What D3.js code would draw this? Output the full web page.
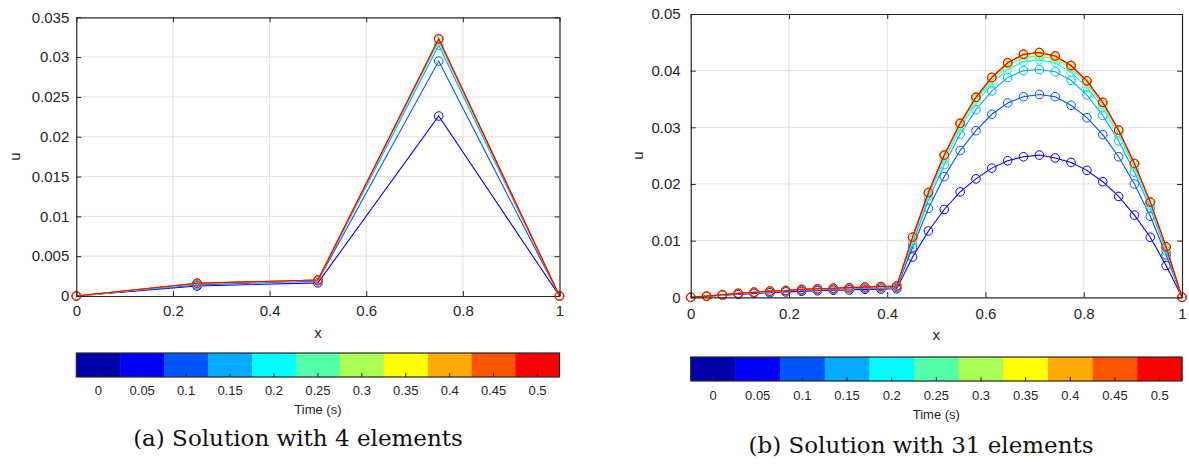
<!DOCTYPE html>
<html>
<head>
<meta charset="utf-8">
<script src="https://cdn.jsdelivr.net/npm/d3@7"></script>
<style>
  body { margin: 0; background: #fff; }
  svg { display: block; }
  text { font-family: "Liberation Sans", Arial, sans-serif; fill: #262626; }
</style>
</head>
<body>
<script>
// time steps shown in the colorbar, one colour each
const times = ["0", "0.05", "0.1", "0.15", "0.2", "0.25", "0.3", "0.35", "0.4", "0.45", "0.5"];
const timeColors = ["#0000aa", "#0000ff", "#0055ff", "#00aaff", "#00ffff", "#55ffaa",
                    "#aaff55", "#ffff00", "#ffaa00", "#ff5500", "#ff0000"];

const xTicks = [0, 0.2, 0.4, 0.6, 0.8, 1];
const yTicks4 = [0, 0.005, 0.01, 0.015, 0.02, 0.025, 0.03, 0.035];
const yTicks31 = [0, 0.01, 0.02, 0.03, 0.04, 0.05];

// mesh with 4 elements
const x4 = [0, 0.25, 0.5, 0.75, 1];
// one row per time step 0.05 ... 0.5
const u4 = [
  [0, 0.00125, 0.00165, 0.0226, 0],
  [0, 0.0014, 0.0019, 0.0295, 0],
  [0, 0.0015, 0.00195, 0.0315, 0],
  [0, 0.0015, 0.002, 0.032, 0],
  [0, 0.0016, 0.002, 0.0322, 0],
  [0, 0.0016, 0.00201, 0.0323, 0],
  [0, 0.0016, 0.00201, 0.0323, 0],
  [0, 0.0016, 0.00201, 0.0323, 0],
  [0, 0.0016, 0.00201, 0.0323, 0],
  [0, 0.0016, 0.00201, 0.0323, 0]
];

// mesh with 31 elements
const x31 = [0, 0.0323, 0.0645, 0.0968, 0.1290, 0.1613, 0.1935, 0.2258, 0.2581, 0.2903,
             0.3226, 0.3548, 0.3871, 0.4194, 0.4516, 0.4839, 0.5161, 0.5484, 0.5806, 0.6129,
             0.6452, 0.6774, 0.7097, 0.7419, 0.7742, 0.8065, 0.8387, 0.8710, 0.9032, 0.9355,
             0.9677, 1];
const u31 = [
  [0, 0.00015, 0.00035, 0.0005, 0.0007, 0.0008, 0.00095, 0.00105, 0.00115, 0.00125, 0.0013, 0.0014, 0.00145, 0.0015,
   0.0071, 0.0117, 0.0155, 0.0186, 0.0209, 0.0228, 0.0241, 0.0248, 0.0251, 0.0246, 0.0238, 0.0224, 0.0204, 0.0178, 0.0145, 0.0106, 0.0056, 0],
  [0, 0.00018, 0.0004, 0.0006, 0.0008, 0.00095, 0.0011, 0.00125, 0.00135, 0.00145, 0.00155, 0.00165, 0.0017, 0.00175,
   0.0088, 0.0157, 0.0213, 0.0259, 0.0294, 0.0323, 0.0343, 0.0354, 0.0358, 0.0354, 0.0339, 0.0317, 0.0287, 0.0248, 0.0200, 0.0143, 0.0075, 0],
  [0, 0.00019, 0.00042, 0.00065, 0.00085, 0.001, 0.00115, 0.0013, 0.0014, 0.0015, 0.0016, 0.0017, 0.00175, 0.00185,
   0.0094, 0.0172, 0.0234, 0.0288, 0.0331, 0.0364, 0.0388, 0.0400, 0.0402, 0.0398, 0.0383, 0.0357, 0.0321, 0.0276, 0.0221, 0.0157, 0.0082, 0],
  [0, 0.0002, 0.00044, 0.00068, 0.00088, 0.00105, 0.0012, 0.00135, 0.00145, 0.00155, 0.00165, 0.00175, 0.00183, 0.00193,
   0.0100, 0.0179, 0.0243, 0.0298, 0.0343, 0.0377, 0.0402, 0.0416, 0.0419, 0.0414, 0.0397, 0.0371, 0.0334, 0.0287, 0.0229, 0.0163, 0.0086, 0],
  [0, 0.0002, 0.00045, 0.00069, 0.00089, 0.00108, 0.0012, 0.00138, 0.00148, 0.00158, 0.00168, 0.00178, 0.00187, 0.00196,
   0.0103, 0.0182, 0.0247, 0.0303, 0.0349, 0.0383, 0.0409, 0.0423, 0.0426, 0.0420, 0.0404, 0.0377, 0.0340, 0.0292, 0.0233, 0.0166, 0.0088, 0],
  [0, 0.0002, 0.00045, 0.0007, 0.0009, 0.0011, 0.0012, 0.0014, 0.0015, 0.0016, 0.0017, 0.0018, 0.00188, 0.00198,
   0.0105, 0.0184, 0.0249, 0.0305, 0.0351, 0.0386, 0.0412, 0.0427, 0.0429, 0.0423, 0.0407, 0.0380, 0.0342, 0.0294, 0.0235, 0.0167, 0.0088, 0],
  [0, 0.0002, 0.00045, 0.0007, 0.0009, 0.0011, 0.0012, 0.0014, 0.0015, 0.0016, 0.0017, 0.0018, 0.0019, 0.002,
   0.0105, 0.0185, 0.0250, 0.0306, 0.0352, 0.0387, 0.0413, 0.0428, 0.0431, 0.0425, 0.0408, 0.0381, 0.0343, 0.0294, 0.0235, 0.0168, 0.0089, 0],
  [0, 0.0002, 0.00045, 0.0007, 0.0009, 0.0011, 0.0012, 0.0014, 0.0015, 0.0016, 0.0017, 0.0018, 0.0019, 0.002,
   0.0106, 0.0185, 0.0251, 0.0307, 0.0353, 0.0388, 0.0414, 0.0429, 0.0432, 0.0426, 0.0409, 0.0382, 0.0344, 0.0295, 0.0236, 0.0168, 0.0089, 0],
  [0, 0.0002, 0.00045, 0.0007, 0.0009, 0.0011, 0.0012, 0.0014, 0.0015, 0.0016, 0.0017, 0.0018, 0.0019, 0.002,
   0.0106, 0.0185, 0.0251, 0.0307, 0.0353, 0.0388, 0.0414, 0.0429, 0.0432, 0.0426, 0.0409, 0.0382, 0.0344, 0.0295, 0.0236, 0.0168, 0.0089, 0],
  [0, 0.0002, 0.00045, 0.0007, 0.0009, 0.0011, 0.0012, 0.0014, 0.0015, 0.0016, 0.0017, 0.0018, 0.0019, 0.002,
   0.0106, 0.0185, 0.0251, 0.0307, 0.0353, 0.0388, 0.0414, 0.0429, 0.0432, 0.0426, 0.0409, 0.0382, 0.0344, 0.0295, 0.0236, 0.0168, 0.0089, 0]
];

const width = 1189, height = 464;
const axisColor = "#262626";
const gridColor = "#e0e0e0";
const sans = '"Liberation Sans", Arial, sans-serif';

const svg = d3.select("body").append("svg")
    .attr("width", width)
    .attr("height", height);

svg.append("rect").attr("width", width).attr("height", height).attr("fill", "#fff");

function drawPanel(p) {
  const x = d3.scaleLinear().domain([0, 1]).range([p.left, p.right]);
  const y = d3.scaleLinear().domain([0, p.yMax]).range([p.bottom, p.top]);
  const g = svg.append("g");

  // grid
  g.append("g").selectAll("line").data(xTicks.slice(1, -1)).join("line")
      .attr("x1", d => x(d)).attr("x2", d => x(d))
      .attr("y1", p.top).attr("y2", p.bottom)
      .attr("stroke", gridColor);
  g.append("g").selectAll("line").data(p.yTicks.slice(1, -1)).join("line")
      .attr("x1", p.left).attr("x2", p.right)
      .attr("y1", d => y(d)).attr("y2", d => y(d))
      .attr("stroke", gridColor);

  // series, earliest first so the later (red) ones sit on top
  const line = d3.line().x((d, i) => x(p.xs[i])).y(d => y(d));
  p.us.forEach((row, k) => {
    const c = timeColors[k + 1];
    g.append("path").datum(row)
        .attr("d", line)
        .attr("fill", "none")
        .attr("stroke", c)
        .attr("stroke-width", 1.1);
    g.append("g").selectAll("circle").data(row).join("circle")
        .attr("cx", (d, i) => x(p.xs[i]))
        .attr("cy", d => y(d))
        .attr("r", 4.3)
        .attr("fill", "none")
        .attr("stroke", c)
        .attr("stroke-width", 1);
  });

  // axes with a box, ticks pointing inward
  const fmt = d => d3.format("~g")(d);
  const styleAxis = a => {
    a.selectAll("path, line").attr("stroke", axisColor);
    a.selectAll("text").attr("fill", axisColor).style("font-size", "15px")
        .style("font-family", sans);
  };
  g.append("g").attr("transform", `translate(0,${p.bottom})`)
      .call(d3.axisBottom(x).tickValues(xTicks).tickFormat(fmt)
          .tickSizeInner(-5).tickSizeOuter(0).tickPadding(p.xPad))
      .call(styleAxis);
  g.append("g").attr("transform", `translate(0,${p.top})`)
      .call(d3.axisTop(x).tickValues(xTicks).tickFormat("")
          .tickSizeInner(-5).tickSizeOuter(0))
      .call(styleAxis);
  g.append("g").attr("transform", `translate(${p.left},0)`)
      .call(d3.axisLeft(y).tickValues(p.yTicks).tickFormat(fmt)
          .tickSizeInner(-5).tickSizeOuter(0).tickPadding(p.yPad))
      .call(styleAxis);
  g.append("g").attr("transform", `translate(${p.right},0)`)
      .call(d3.axisRight(y).tickValues(p.yTicks).tickFormat("")
          .tickSizeInner(-5).tickSizeOuter(0))
      .call(styleAxis);
  g.selectAll(".domain").attr("stroke-width", 1.2);

  // axis labels
  g.append("text")
      .attr("x", (p.left + p.right) / 2).attr("y", p.xLabelY)
      .attr("text-anchor", "middle").attr("dy", "0.35em")
      .style("font-size", "15px").text("x");
  g.append("text")
      .attr("transform", `translate(${p.uLabelX},${(p.top + p.bottom) / 2}) rotate(-90)`)
      .attr("text-anchor", "middle").attr("dy", "0.35em")
      .style("font-size", "15px").text("u");

  // colorbar
  const cb = d3.scaleBand().domain(times).range([p.left, p.right]);
  const cg = g.append("g");
  cg.selectAll("rect").data(times).join("rect")
      .attr("x", d => cb(d)).attr("y", p.cbTop)
      .attr("width", cb.bandwidth() + 0.5).attr("height", p.cbBottom - p.cbTop)
      .attr("fill", (d, i) => timeColors[i]);
  cg.append("rect")
      .attr("x", p.left).attr("y", p.cbTop)
      .attr("width", p.right - p.left).attr("height", p.cbBottom - p.cbTop)
      .attr("fill", "none").attr("stroke", axisColor).attr("stroke-width", 1.2);
  cg.append("g").attr("transform", `translate(0,${p.cbBottom})`)
      .call(d3.axisBottom(cb).tickSizeInner(-4).tickSizeOuter(0).tickPadding(p.cbPad))
      .call(a => a.select(".domain").remove())
      .call(a => a.selectAll("line").attr("stroke", axisColor))
      .call(a => a.selectAll("text").attr("fill", axisColor).style("font-size", "13px")
          .style("font-family", sans));
  cg.append("text")
      .attr("x", (p.left + p.right) / 2).attr("y", p.timeY)
      .attr("text-anchor", "middle").attr("dy", "0.35em")
      .style("font-size", "13px").text("Time (s)");

  // caption, sized to the width it takes in the figure
  const cap = g.append("text")
      .attr("x", p.capX).attr("y", p.capY)
      .attr("text-anchor", "middle")
      .style("font-family", '"DejaVu Serif", serif')
      .style("font-size", "20px")
      .style("fill", "#111")
      .text(p.caption);
  const len = cap.node().getComputedTextLength();
  cap.style("font-size", (20 * p.capW / len).toFixed(2) + "px");
}

drawPanel({
  xs: x4, us: u4, yMax: 0.035, yTicks: yTicks4,
  left: 76.3, right: 559.5, top: 17.3, bottom: 296,
  xPad: 9, yPad: 7, xLabelY: 333, uLabelX: 15,
  cbTop: 353, cbBottom: 377, cbPad: 9, timeY: 409,
  caption: "(a) Solution with 4 elements", capX: 298, capY: 446, capW: 330
});

drawPanel({
  xs: x31, us: u31, yMax: 0.05, yTicks: yTicks31,
  left: 690.7, right: 1182, top: 14, bottom: 297.3,
  xPad: 11, yPad: 10, xLabelY: 335, uLabelX: 638,
  cbTop: 357, cbBottom: 381, cbPad: 10, timeY: 414,
  caption: "(b) Solution with 31 elements", capX: 921, capY: 453, capW: 345
});
</script>
</body>
</html>
